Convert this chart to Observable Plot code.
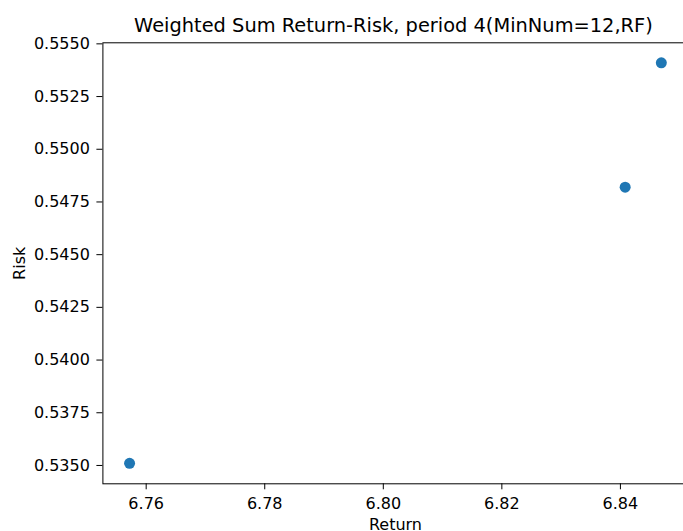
<!DOCTYPE html>
<html>
<head>
<meta charset="utf-8">
<script src="https://cdn.jsdelivr.net/npm/d3@7"></script>
<script src="https://cdn.jsdelivr.net/npm/@observablehq/plot@0.6"></script>
<style>
  html, body { margin: 0; padding: 0; background: #fff; overflow: hidden; }
  #chart { width: 683px; height: 531px; overflow: hidden; }
</style>
</head>
<body>
<div id="chart"></div>
<script>
// Data
const returns = [6.7572, 6.8408, 6.8469];
const risks = [0.5351, 0.5482, 0.5541];
const xTicks = [6.76, 6.78, 6.80, 6.82, 6.84];
const yTicks = [0.5350, 0.5375, 0.5400, 0.5425, 0.5450, 0.5475, 0.5500, 0.5525, 0.5550];
const title = "Weighted Sum Return-Risk, period 4(MinNum=12,RF)";
const xLabel = "Return";
const yLabel = "Risk";

const points = returns.map((r, i) => ({ret: r, risk: risks[i]}));

const chart = Plot.plot({
  width: 683,
  height: 531,
  marginLeft: 102.4,
  marginRight: -4.5,
  marginTop: 42.3,
  marginBottom: 47.7,
  style: {fontFamily: "'DejaVu Sans', sans-serif", background: "#fff", color: "#000"},
  x: {domain: [6.7527, 6.8514]},
  y: {domain: [0.53413, 0.55505]},
  marks: [
    Plot.frame({stroke: "#000", strokeWidth: 1}),
    Plot.axisX({ticks: xTicks, tickFormat: d3.format(".2f"), tickSize: 6, tickPadding: 7.5, fontSize: 16, label: null, stroke: "#000"}),
    Plot.axisY({ticks: yTicks, tickFormat: d3.format(".4f"), tickSize: 6, tickPadding: 7, fontSize: 16, label: null, stroke: "#000"}),
    Plot.dot(points, {x: "ret", y: "risk", r: 5.5, fill: "#1f77b4", stroke: "none"}),
    Plot.text([title], {frameAnchor: "top", textAnchor: "middle", lineAnchor: "middle", dx: -2, dy: -17.4, fontSize: 19.4, fill: "#000"}),
    Plot.text([xLabel], {frameAnchor: "bottom", textAnchor: "middle", lineAnchor: "middle", dy: 41, fontSize: 16, fill: "#000"}),
    Plot.text([yLabel], {frameAnchor: "left", textAnchor: "middle", lineAnchor: "middle", dx: -83.1, rotate: -90, fontSize: 16, fill: "#000"})
  ]
});
document.getElementById("chart").appendChild(chart);
</script>
</body>
</html>
